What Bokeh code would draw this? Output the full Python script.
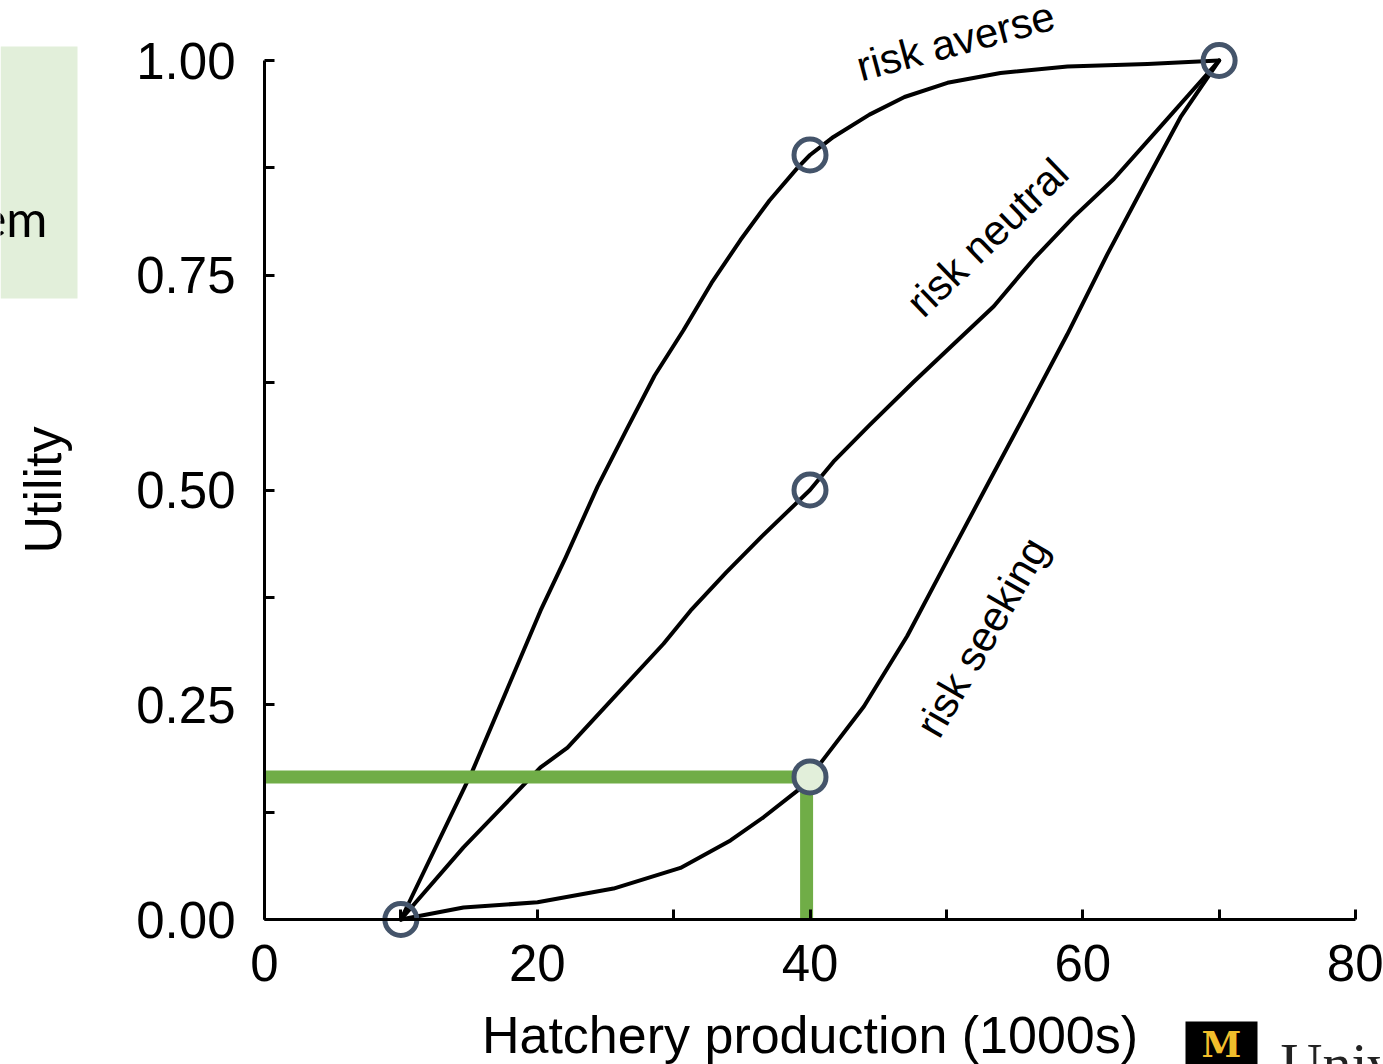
import math
from bokeh.plotting import figure
from bokeh.models import Range1d, FixedTicker, CustomJSTickFormatter, Label, BoxAnnotation
from bokeh.embed import file_html
from bokeh.resources import INLINE

# ---------------- data ----------------
averse_x = [10, 15.25, 20.24, 22.07, 24.42, 26.54, 28.60, 30.72, 32.78, 34.90, 37.03, 39.08, 40,
            41.72, 44.36, 46.93, 50.08, 53.97, 58.88, 64.75, 70]
averse_y = [0, 0.173, 0.3595, 0.421, 0.504, 0.570, 0.633, 0.686, 0.741, 0.791, 0.837, 0.875, 0.890,
            0.911, 0.937, 0.9575, 0.974, 0.9855, 0.993, 0.996, 1.0]

neutral_x = [10, 14.59, 20.24, 22.22, 25.59, 29.26, 31.24, 33.86, 36.47, 40, 41.72, 44.33, 47.61,
             50.54, 53.48, 56.41, 59.34, 62.28, 65.70, 70]
neutral_y = [0, 0.084, 0.177, 0.200, 0.258, 0.321, 0.3595, 0.404, 0.446, 0.5, 0.533, 0.575, 0.626,
             0.670, 0.714, 0.769, 0.818, 0.862, 0.923, 1.0]

seeking_x = [10, 14.59, 20.02, 25.59, 30.50, 34.17, 36.59, 39.08, 40, 41.01, 43.95, 47.13, 50.06,
             52.99, 55.93, 58.86, 61.79, 64.73, 67.17, 70]
seeking_y = [0, 0.014, 0.020, 0.036, 0.060, 0.092, 0.119, 0.150, 0.166, 0.187, 0.248, 0.330, 0.418,
             0.5055, 0.593, 0.681, 0.774, 0.862, 0.934, 1.0]

point_x = [10, 40, 40, 70]
point_y = [0, 0.890, 0.5, 1.0]

certainty_x = 40        # production level examined
certainty_u = 0.166     # its utility on the risk-seeking curve
drop_x = 39.75          # vertical guide position

curve_labels = ["risk averse", "risk neutral", "risk seeking"]
label_x = [43.48, 47.59, 48.55]
label_y = [0.992, 0.711, 0.217]
label_angle_deg = [15, 44, 60]

x_ticks = [0, 10, 20, 30, 40, 50, 60, 70, 80]
y_ticks = [0, 0.125, 0.25, 0.375, 0.5, 0.625, 0.75, 0.875, 1.0]

# ---------------- layout: frame covers the whole canvas ----------------
W, H = 1383, 1064
X0_PX, X80_PX = 264.0, 1355.0
Y0_PX, Y1_PX = 919.0, 60.0
sx = (X80_PX - X0_PX) / 80.0
sy = (Y0_PX - Y1_PX) / 1.0
x_start = -X0_PX / sx
x_end = 80 + (W - X80_PX) / sx
y_start = -(H - Y0_PX) / sy
y_end = 1 + Y1_PX / sy


def px_x(px):
    return (px - X0_PX) / sx


def px_y(py):
    return (Y0_PX - py) / sy


p = figure(width=W, height=H, x_range=Range1d(x_start, x_end), y_range=Range1d(y_start, y_end),
           output_backend="svg", toolbar_location=None,
           min_border=0, min_border_left=0, min_border_right=0, min_border_top=0, min_border_bottom=0)
p.outline_line_color = None
p.background_fill_color = "white"
p.border_fill_color = "white"
p.grid.visible = False

FONT = "Liberation Sans"

# axes
for ax in (p.xaxis[0], p.yaxis[0]):
    ax.fixed_location = 0
    ax.axis_line_color = "black"
    ax.axis_line_width = 3
    ax.major_tick_line_color = "black"
    ax.major_tick_line_width = 3
    ax.major_tick_in = 10
    ax.major_tick_out = 0
    ax.minor_tick_line_color = None
    ax.major_label_text_font = FONT
    ax.major_label_text_font_size = "51px"
    ax.major_label_text_color = "black"
    ax.axis_label_text_font = FONT
    ax.axis_label_text_font_size = "52px"
    ax.axis_label_text_font_style = "normal"
    ax.axis_label_text_color = "black"

xa = p.xaxis[0]
xa.bounds = (0, 80)
xa.ticker = FixedTicker(ticks=x_ticks)
xa.formatter = CustomJSTickFormatter(code="return (Math.round(tick) % 20 === 0) ? tick.toFixed(0) : '';")
xa.major_label_standoff = 25
xa.axis_label = "Hatchery production (1000s)"
xa.axis_label_standoff = 22

ya = p.yaxis[0]
ya.bounds = (0, 1)
ya.ticker = FixedTicker(ticks=y_ticks)
ya.formatter = CustomJSTickFormatter(
    code="return (Math.abs(tick*4 - Math.round(tick*4)) < 1e-9) ? tick.toFixed(2) : '';")
ya.major_label_standoff = 29
ya.axis_label = "Utility"
ya.axis_label_standoff = 61

# decorative slide elements
p.add_layout(BoxAnnotation(left=x_start, right=px_x(77), top=px_y(46), bottom=px_y(298),
                           fill_color="#e2efda", fill_alpha=1.0, line_color=None, level="underlay"))
p.add_layout(Label(x=px_x(47), y=px_y(217), text="em", text_align="right", text_baseline="alphabetic",
                   text_font="Lato", text_font_size="50px", text_color="black"))
p.add_layout(BoxAnnotation(left=px_x(1185), right=px_x(1257), top=px_y(1021), bottom=y_start,
                           fill_color="black", fill_alpha=1.0, line_color=None))
p.add_layout(Label(x=px_x(1221), y=px_y(1043), text="M", text_align="center", text_baseline="middle",
                   text_font="DejaVu Serif", text_font_style="bold", text_font_size="36px",
                   text_color="#F1BE2B"))
p.add_layout(Label(x=px_x(1280), y=px_y(1063), text="University of Michigan", text_align="left",
                   text_baseline="alphabetic", text_font="Liberation Serif", text_font_size="58px",
                   text_color="#222222"))

# curves
for xs, ys in ((averse_x, averse_y), (neutral_x, neutral_y), (seeking_x, seeking_y)):
    p.line(xs, ys, line_color="black", line_width=4, line_join="round", line_cap="round")

# green guide lines
p.line([0, certainty_x], [certainty_u, certainty_u], line_color="#70ad47", line_width=13)
p.line([drop_x, drop_x], [0, certainty_u], line_color="#70ad47", line_width=13)

# markers
p.scatter(point_x, point_y, marker="circle", size=32, fill_color=None,
          line_color="#44546a", line_width=5)
p.scatter([certainty_x], [certainty_u], marker="circle", size=32, fill_color="#e2efda",
          line_color="#44546a", line_width=5)

# curve labels
for t, lx, ly, ang in zip(curve_labels, label_x, label_y, label_angle_deg):
    p.add_layout(Label(x=lx, y=ly, text=t, angle=math.radians(ang), text_align="left",
                       text_baseline="alphabetic", text_font=FONT, text_font_size="42px",
                       text_color="black"))

open("out.html", "w").write(file_html(p, INLINE))
